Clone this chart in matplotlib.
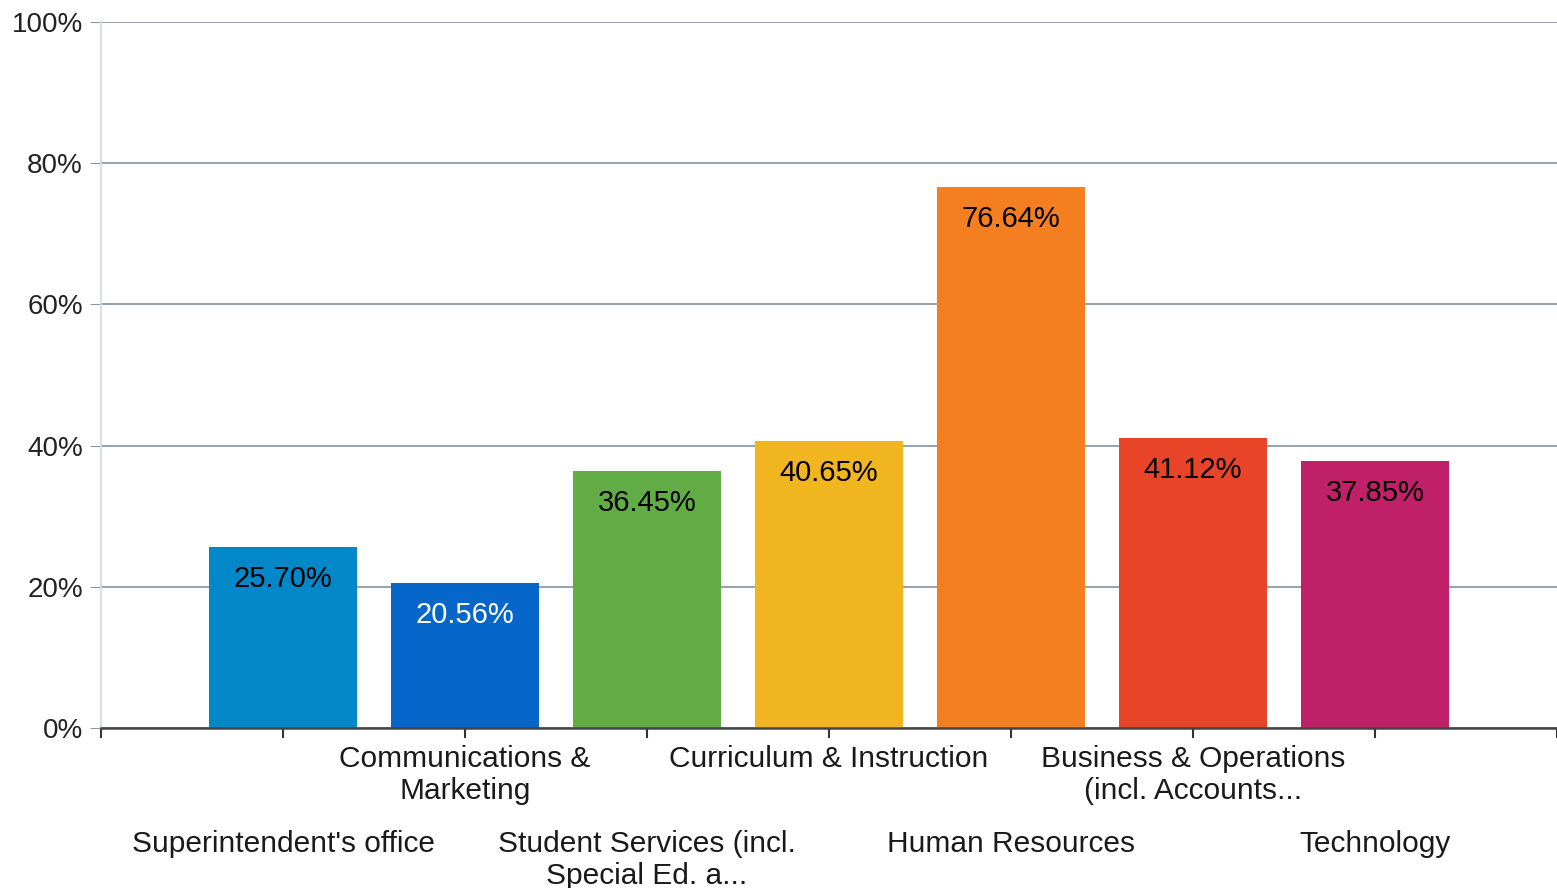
import matplotlib.pyplot as plt
from matplotlib.ticker import FuncFormatter
import matplotlib.transforms as mtransforms

categories = [
    "Superintendent's office",
    "Communications &\nMarketing",
    "Student Services (incl.\nSpecial Ed. a...",
    "Curriculum & Instruction",
    "Human Resources",
    "Business & Operations\n(incl. Accounts...",
    "Technology",
]
values = [25.70, 20.56, 36.45, 40.65, 76.64, 41.12, 37.85]
colors = ["#0287C9", "#0666CA", "#62AC46", "#F1B61F", "#F47F21", "#E84427", "#BF2067"]
label_colors = ["black", "white", "black", "black", "black", "black", "black"]

plt.rcParams['font.family'] = ['Liberation Sans', 'DejaVu Sans']

fig = plt.figure(figsize=(15.57, 8.88), dpi=100)
ax = fig.add_axes([101 / 1557, 1 - 728 / 888, 1 - 101 / 1557, 706 / 888])

x = list(range(1, len(values) + 1))
bars = ax.bar(x, values, width=0.81, color=colors, zorder=3)

ax.set_xlim(0, 8)
ax.set_ylim(0, 100)
ax.set_yticks([0, 20, 40, 60, 80, 100])
ax.yaxis.set_major_formatter(FuncFormatter(lambda v, p: f"{v:.0f}%"))
ax.tick_params(axis='y', length=8, color="#8C9AA6", labelsize=20, labelcolor="#222222", pad=5)
ax.grid(axis='y', color="#8C9AA6", linewidth=1.3, zorder=0)

ax.set_xticks(range(0, 9))
ax.set_xticklabels([])
ax.tick_params(axis='x', length=7, width=1.5, color="#333333", direction='out')

for side in ['top', 'right']:
    ax.spines[side].set_visible(False)
ax.spines['left'].set_color("#D3DBE6")
ax.spines['left'].set_linewidth(1.3)
ax.spines['bottom'].set_color("#444444")
ax.spines['bottom'].set_linewidth(1.8)
ax.spines['bottom'].set_zorder(4)

# data labels inside bars
for xi, v, c in zip(x, values, label_colors):
    ax.annotate(f"{v:.2f}%", (xi, v), xytext=(0, -32), textcoords='offset pixels',
                ha='center', va='center', fontsize=21, color=c, zorder=5)

# staggered category labels
trans = mtransforms.blended_transform_factory(ax.transData, ax.transAxes)
for i, (xi, lab) in enumerate(zip(x, categories)):
    y = -0.024 if i % 2 == 1 else -0.144
    ax.text(xi, y, lab, transform=trans, ha='center', va='top', fontsize=21.5,
            color="#1a1a1a", linespacing=1.2)

fig.savefig("out.png", dpi=100)
